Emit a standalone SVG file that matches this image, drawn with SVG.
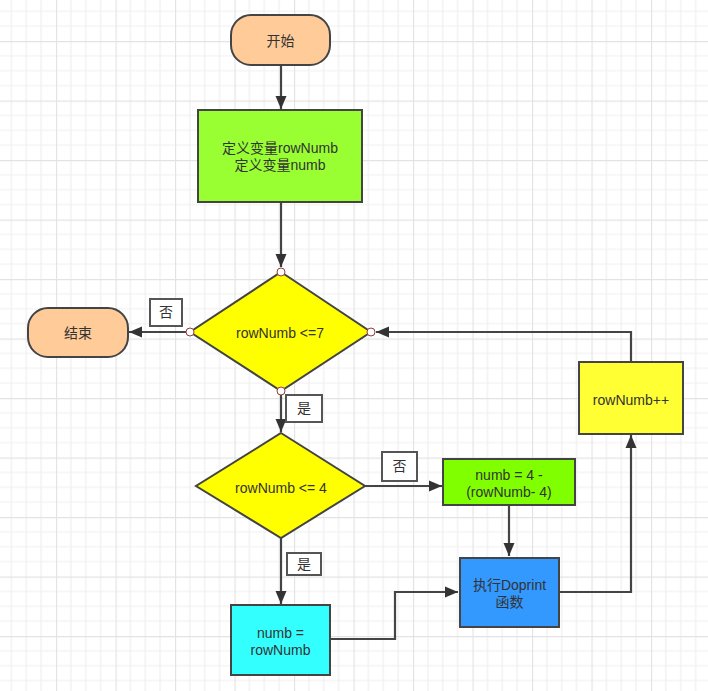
<svg xmlns="http://www.w3.org/2000/svg" width="708" height="691" viewBox="0 0 708 691">
<defs>
<pattern id="grid" patternUnits="userSpaceOnUse" x="56" y="41" width="59.5" height="59.5">
<path d="M14.875 0V59.5M29.75 0V59.5M44.625 0V59.5M0 14.875H59.5M0 29.75H59.5M0 44.625H59.5" stroke="#efefef" stroke-width="1.2" fill="none"/>
<path d="M0.5 0V59.5M0 0.5H59.5" stroke="#e3e3e3" stroke-width="1.3" fill="none"/>
</pattern>
<marker id="arrow" markerUnits="userSpaceOnUse" markerWidth="14" markerHeight="12" refX="13" refY="6" orient="auto">
<path d="M0 0.5L13 6L0 11.5Z" fill="#333"/>
</marker>
<style>
.node{stroke:#444;stroke-width:2}
.t{font-family:"Liberation Sans","Noto Sans CJK SC",sans-serif;font-size:14px;fill:#333;text-anchor:middle}
.conn{fill:none;stroke:#444;stroke-width:2.2}
.lbl{fill:#fff;stroke:#555;stroke-width:2}
.pt{fill:#fff;stroke:#9b3a3a;stroke-width:1}
</style>
</defs>
<rect width="708" height="691" fill="#fff"/>
<rect width="708" height="691" fill="url(#grid)"/>

<g id="connectors">
<path class="conn" d="M281 65V109" marker-end="url(#arrow)"/>
<path class="conn" d="M281 202V267" marker-end="url(#arrow)"/>
<path class="conn" d="M186 332H129" marker-end="url(#arrow)"/>
<path class="conn" d="M281 395V432" marker-end="url(#arrow)"/>
<path class="conn" d="M365 486H442" marker-end="url(#arrow)"/>
<path class="conn" d="M509 505V556" marker-end="url(#arrow)"/>
<path class="conn" d="M281 538V604" marker-end="url(#arrow)"/>
<path class="conn" d="M330 639H395V592H458" marker-end="url(#arrow)"/>
<path class="conn" d="M559 592H631V435" marker-end="url(#arrow)"/>
<path class="conn" d="M631 362V332H376" marker-end="url(#arrow)"/>
<g id="label-no1"><rect class="lbl" x="150" y="299" width="32" height="27"/><text class="t" x="166" y="317">否</text></g>
<g id="label-yes1"><rect class="lbl" x="286" y="395" width="36" height="27"/><text class="t" x="304" y="413">是</text></g>
<g id="label-no2"><rect class="lbl" x="382" y="452" width="35" height="29"/><text class="t" x="399.5" y="471">否</text></g>
<g id="label-yes2"><rect class="lbl" x="287" y="553" width="34" height="22"/><text class="t" x="304" y="569">是</text></g>
</g>

<g id="start"><rect class="node" x="231" y="15" width="99" height="50" rx="20" fill="#ffcc99"/><text class="t" x="280.5" y="46">开始</text></g>

<g id="init"><rect class="node" x="198" y="110" width="164" height="92" fill="#99ff33"/><text class="t" x="280" y="153">定义变量rowNumb</text><text class="t" x="280" y="169.5">定义变量numb</text></g>

<g id="cond1"><path class="node" d="M281 272L371 332L281 391L190 332Z" fill="#ffff00"/><text class="t" x="280" y="338">rowNumb &lt;=7</text>
<circle class="pt" cx="281" cy="272" r="4"/><circle class="pt" cx="190" cy="332" r="4"/><circle class="pt" cx="371" cy="332" r="4"/><circle class="pt" cx="281" cy="391" r="4"/></g>

<g id="end"><rect class="node" x="28" y="308" width="100" height="49" rx="20" fill="#ffcc99"/><text class="t" x="78" y="338">结束</text></g>

<g id="cond2"><path class="node" d="M281 433L365 486L281 538L196 486Z" fill="#ffff00"/><text class="t" x="281" y="493">rowNumb &lt;= 4</text></g>

<g id="calc2"><rect class="node" x="443" y="459" width="132" height="46" fill="#80ff00"/><text class="t" x="509" y="480">numb = 4 -</text><text class="t" x="509" y="496.5">(rowNumb- 4)</text></g>

<g id="doprint"><rect class="node" x="460" y="558" width="99" height="69" fill="#3399ff"/><text class="t" x="509.5" y="590">执行Doprint</text><text class="t" x="509.5" y="606.5">函数</text></g>

<g id="calc1"><rect class="node" x="231" y="605" width="99" height="70" fill="#33ffff"/><text class="t" x="280.5" y="638">numb =</text><text class="t" x="280.5" y="654.5">rowNumb</text></g>

<g id="incr"><rect class="node" x="579" y="362" width="104" height="72" fill="#ffff33"/><text class="t" x="631" y="405">rowNumb++</text></g>
</svg>
